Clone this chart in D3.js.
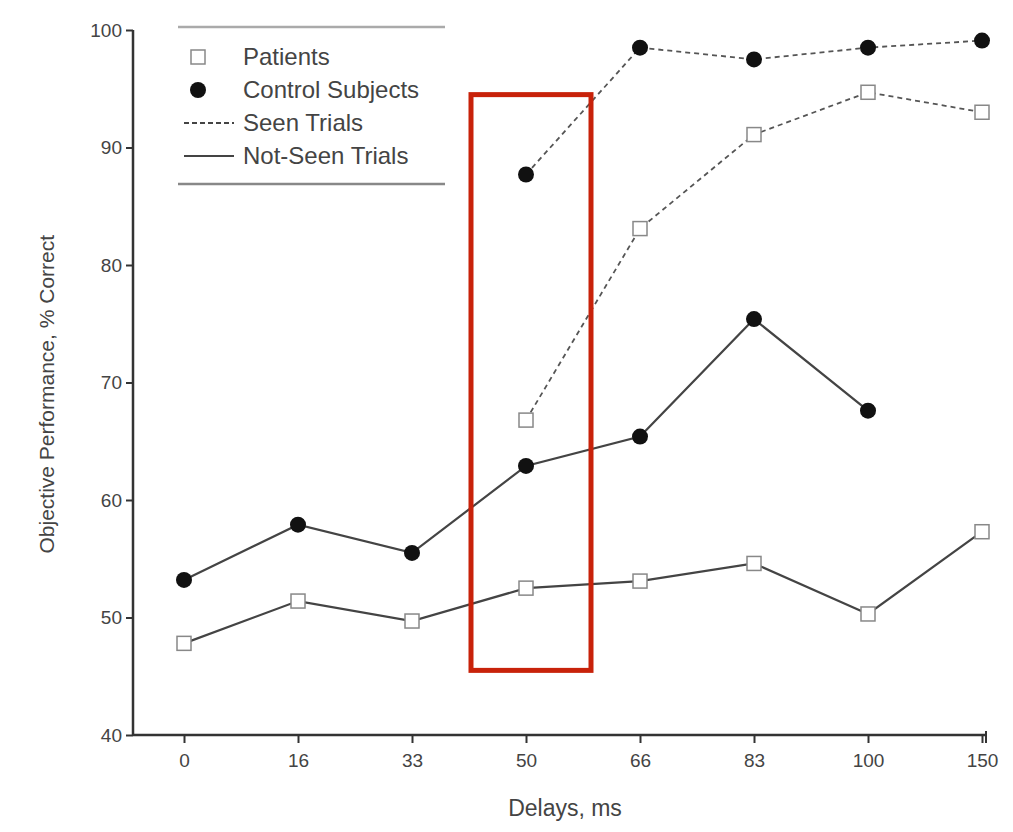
<!DOCTYPE html>
<html>
<head>
<meta charset="utf-8">
<script src="https://cdn.jsdelivr.net/npm/d3@7"></script>
<style>
  body { margin: 0; background: #fff; }
  text { font-family: "Liberation Sans Narrow", "Arial Narrow", "Liberation Sans", Arial, sans-serif; fill: #444; }
</style>
</head>
<body>
<script>
var delays = ["0", "16", "33", "50", "66", "83", "100", "150"],
	yTicks = [40, 50, 60, 70, 80, 90, 100];

// values, null = no point
var patientsSeen = [null, null, null, 66.8, 83.1, 91.1, 94.7, 93.0],
	controlSeen = [null, null, null, 87.7, 98.5, 97.5, 98.5, 99.1],
	controlNotSeen = [53.2, 57.9, 55.5, 62.9, 65.4, 75.4, 67.6, null],
	patientsNotSeen = [47.8, 51.4, 49.7, 52.5, 53.1, 54.6, 50.3, 57.3];

var legendItems = ["Patients", "Control Subjects", "Seen Trials", "Not-Seen Trials"];

var width = 1013, height = 832;

var svg = d3.select("body").append("svg")
	.attr("width", width)
	.attr("height", height);

var x = d3.scalePoint().domain(delays).range([184, 982]);
var y = d3.scaleLinear().domain([40, 100]).range([735, 30]);

// axes
var yAxis = svg.append("g")
	.attr("transform", "translate(133,0)")
	.call(d3.axisLeft(y).tickValues(yTicks).tickSize(7).tickPadding(4));
var xAxis = svg.append("g")
	.attr("transform", "translate(0,735)")
	.call(d3.axisBottom(x).tickSize(8).tickPadding(11));

[xAxis, yAxis].forEach(function (a) {
	a.select(".domain").remove();
	a.selectAll("line").attr("stroke", "#333").attr("stroke-width", 2);
	a.selectAll("text").style("font-size", "19px").attr("fill", "#444");
});

svg.append("line")
	.attr("x1", 133).attr("x2", 133)
	.attr("y1", y(100)).attr("y2", y(40))
	.attr("stroke", "#333").attr("stroke-width", 2.5);
svg.append("line")
	.attr("x1", 133).attr("x2", 986)
	.attr("y1", y(40)).attr("y2", y(40))
	.attr("stroke", "#333").attr("stroke-width", 2.5);
svg.append("line")
	.attr("x1", 986).attr("x2", 986)
	.attr("y1", y(40) - 4).attr("y2", y(40) + 8)
	.attr("stroke", "#333").attr("stroke-width", 2);

// axis titles
svg.append("text")
	.attr("transform", "translate(54," + y(69) + ") rotate(-90)")
	.style("text-anchor", "middle")
	.style("font-size", "21px")
	.text("Objective Performance, % Correct");
svg.append("text")
	.attr("x", 565).attr("y", 816)
	.style("text-anchor", "middle")
	.style("font-size", "23px")
	.text("Delays, ms");

function toPoints(vals) {
	return delays.map(function (d, i) { return { d: d, v: vals[i] }; })
		.filter(function (p) { return p.v !== null; });
}

var line = d3.line()
	.x(function (p) { return x(p.d); })
	.y(function (p) { return y(p.v); });

var series = [
	{ vals: patientsNotSeen, dash: null, mark: "square" },
	{ vals: controlNotSeen, dash: null, mark: "circle" },
	{ vals: patientsSeen, dash: "5,4", mark: "square" },
	{ vals: controlSeen, dash: "5,4", mark: "circle" }
];

series.forEach(function (s) {
	var pts = toPoints(s.vals);
	svg.append("path")
		.datum(pts)
		.attr("d", line)
		.attr("fill", "none")
		.attr("stroke", s.dash ? "#555" : "#444")
		.attr("stroke-width", s.dash ? 1.8 : 2.2)
		.attr("stroke-dasharray", s.dash);
	if (s.mark === "circle") {
		svg.selectAll(null).data(pts).enter().append("circle")
			.attr("cx", function (p) { return x(p.d); })
			.attr("cy", function (p) { return y(p.v); })
			.attr("r", 8)
			.attr("fill", "#111");
	} else {
		svg.selectAll(null).data(pts).enter().append("rect")
			.attr("x", function (p) { return x(p.d) - 7; })
			.attr("y", function (p) { return y(p.v) - 7; })
			.attr("width", 14).attr("height", 14)
			.attr("fill", "#fff")
			.attr("stroke", "#888")
			.attr("stroke-width", 1.5);
	}
});

// legend
var lg = svg.append("g");
lg.append("line").attr("x1", 178).attr("x2", 445).attr("y1", 27).attr("y2", 27)
	.attr("stroke", "#aaa").attr("stroke-width", 2.5);
lg.append("line").attr("x1", 178).attr("x2", 445).attr("y1", 184).attr("y2", 184)
	.attr("stroke", "#888").attr("stroke-width", 2.5);
legendItems.forEach(function (t, i) {
	var ly = 57 + i * 33;
	if (i === 0) {
		lg.append("rect").attr("x", 191).attr("y", ly - 7).attr("width", 14).attr("height", 14)
			.attr("fill", "#fff").attr("stroke", "#888").attr("stroke-width", 1.5);
	} else if (i === 1) {
		lg.append("circle").attr("cx", 198).attr("cy", ly).attr("r", 8).attr("fill", "#111");
	} else {
		lg.append("line").attr("x1", 184).attr("x2", 234).attr("y1", ly).attr("y2", ly)
			.attr("stroke", "#444").attr("stroke-width", 2)
			.attr("stroke-dasharray", i === 2 ? "5,3" : null);
	}
	lg.append("text").attr("x", 243).attr("y", ly + 8)
		.style("font-size", "24px")
		.text(t);
});

// red highlight box around the 50 ms delay
svg.append("rect")
	.attr("x", x("50") - 55).attr("y", y(94.5))
	.attr("width", 120).attr("height", y(45.5) - y(94.5))
	.attr("fill", "none")
	.attr("stroke", "#c8220a")
	.attr("stroke-width", 5);
</script>
</body>
</html>
